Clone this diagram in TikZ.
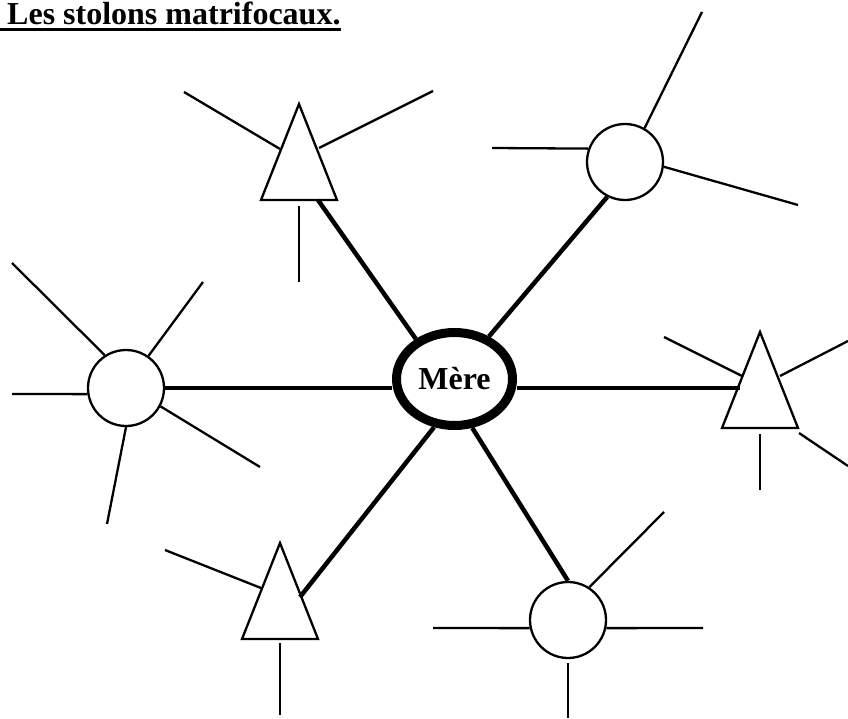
\documentclass[tikz,border=0pt]{standalone}
\usepackage{fontspec}
\setmainfont{Liberation Serif}
\usetikzlibrary{shapes.geometric}
\begin{document}
\begin{tikzpicture}[x=1pt,y=-1pt,
  stolon/.style={line width=4.5pt},
  spoke/.style={line width=2.3pt},
  bud/.style={draw,circle,line width=2.3pt,minimum size=76pt,inner sep=0pt},
  budtri/.style={draw,line width=2.3pt,line join=miter},
  mother/.style={draw,ellipse,fill=white,line width=9pt,minimum width=116pt,
    minimum height=93pt,inner sep=0pt,font=\bfseries\fontsize{32}{38}\selectfont}]
  \useasboundingbox (0,0) rectangle (848,719);
  % titre
  \node[anchor=base west,inner sep=0pt,font=\bfseries\fontsize{32}{38}\selectfont]
    (titre) at (7,25) {Les stolons matrifocaux.};
  \coordinate (ul) at (0,30);
  \draw[line width=3pt] (ul) -- (ul -| titre.east);
  % la mere
  \node[mother] (mere) at (454.5,379) {Mère};
  % bourgeons ronds
  \node[bud] (cTR) at (625,162) {};
  \node[bud] (cL) at (126,388) {};
  \node[bud] (cB) at (568,620) {};
  % bourgeons triangulaires
  \coordinate (tTL) at (299,104);
  \coordinate (tR) at (760,332);
  \coordinate (tBL) at (280,543);
  \foreach \t in {tTL,tR,tBL}
    \draw[budtri] (\t) -- ++(38,96) -- ++(-76,0) -- cycle;
  \coordinate (sTL) at (318,200);
  \coordinate (sR) at (740,388);
  \coordinate (sBL) at (300,597);
  % stolons
  \draw[stolon] (mere.134) -- (sTL);
  \draw[stolon] (mere.51) -- (cTR.243);
  \draw[stolon] (cL.east) -- (cL.east -| mere.west);
  \draw[stolon] (sR -| mere.east) -- (sR);
  \draw[stolon] (mere.247) -- (sBL);
  \draw[stolon] (mere.290) -- (cB.north);
  % rameaux
  \draw[spoke] (280,149) -- (184,92);
  \draw[spoke] (319,148) -- (433,91);
  \draw[spoke] (299,206) -- (299,282);
  \draw[spoke] (cTR.60) -- (702,12);
  \draw[spoke] (cTR.160) -- (492,148);
  \draw[spoke] (cTR.-7) -- (798,205);
  \draw[spoke] (cL.123) -- (12,263);
  \draw[spoke] (cL.55) -- (203,282);
  \draw[spoke] (cL.189) -- (12,394);
  \draw[spoke] (cL.-28) -- (260,467);
  \draw[spoke] (cL.south) -- (107,524);
  \draw[spoke] (742,376) -- (664,337);
  \draw[spoke] (780,376) -- (848,341);
  \draw[spoke] (799,433) -- (848,466);
  \draw[spoke] (760,434) -- (760,490);
  \draw[spoke] (261,588) -- (165,550);
  \draw[spoke] (280,643) -- (280,715);
  \draw[spoke] (cB.57) -- (664,512);
  \draw[spoke] (cB.192) -- (433,628);
  \draw[spoke] (cB.-12) -- (703,628);
  \draw[spoke] (568,663) -- (568,718);
\end{tikzpicture}
\end{document}
